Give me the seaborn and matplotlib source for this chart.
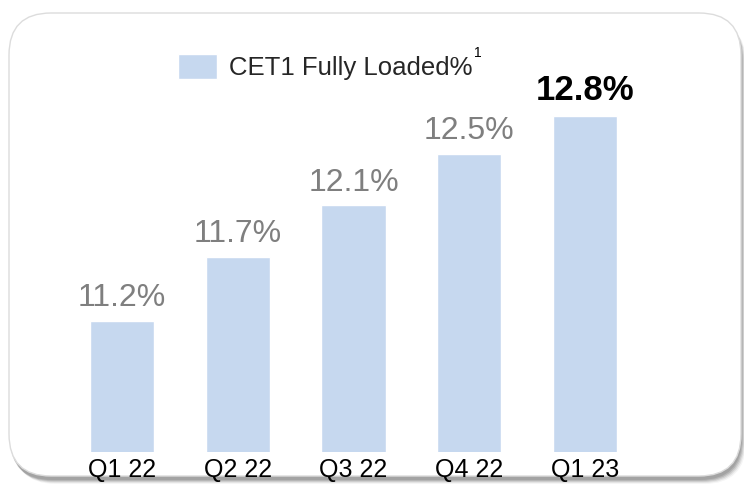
import matplotlib
matplotlib.use("Agg")
import matplotlib.pyplot as plt
import seaborn as sns
import pandas as pd
from matplotlib.patches import FancyBboxPatch
from matplotlib.transforms import IdentityTransform

quarters = ["Q1 22", "Q2 22", "Q3 22", "Q4 22", "Q1 23"]
values = [11.2, 11.7, 12.1, 12.5, 12.8]
value_labels = ["11.2%", "11.7%", "12.1%", "12.5%", "12.8%"]
legend_label = "CET1 Fully Loaded%"

sns.set_theme(style="white")
plt.rcParams['font.family'] = ['Liberation Sans', 'DejaVu Sans']

bar_color = "#c6d8ef"

fig = plt.figure(figsize=(7.44, 4.84), dpi=100)

# rounded frame with shadow (pixel coordinates)
for dx, dy, a in [(5, -8, 0.08), (4, -7, 0.14), (3, -6, 0.22), (2, -5, 0.30), (1, -4, 0.35)]:
    sh = FancyBboxPatch((9 + dx, 8 + dy), 732, 463,
                        boxstyle="round,pad=0,rounding_size=42",
                        transform=IdentityTransform(), facecolor="#808080",
                        edgecolor="none", alpha=a, zorder=-3)
    fig.add_artist(sh)
box = FancyBboxPatch((9, 8), 732, 463, boxstyle="round,pad=0,rounding_size=42",
                     transform=IdentityTransform(), facecolor="white",
                     edgecolor="#dcdcdc", linewidth=1.0, zorder=-2)
fig.add_artist(box)

ax = fig.add_axes([64 / 744, 32 / 484, 579 / 744, 362 / 484])
ax.patch.set_visible(False)

df = pd.DataFrame({"quarter": quarters, "value": values})
sns.barplot(data=df, x="quarter", y="value", color=bar_color, saturation=1,
            width=0.553, ax=ax, label=legend_label)

ymin = 10.175
ax.set_ylim(ymin, 13.0)
ax.set_xlim(-0.5, 4.5)

for i, (v, lab) in enumerate(zip(values, value_labels)):
    if i == len(values) - 1:
        ax.text(i, v + 0.07, lab, ha="center", va="bottom", fontsize=25,
                fontweight="bold", color="black")
    else:
        ax.text(i, v + 0.06, lab, ha="center", va="bottom", fontsize=23,
                color="#7f7f7f")

for s in ax.spines.values():
    s.set_visible(False)
ax.set_yticks([])
ax.set_xlabel("")
ax.set_ylabel("")
ax.tick_params(axis="x", length=0, pad=4, labelsize=18, colors="black")

leg = ax.legend(loc="upper left", bbox_to_anchor=(178 / 744, 1 - 54 / 484),
                bbox_transform=fig.transFigure, frameon=False, fontsize=18.5,
                handlelength=1.52, handleheight=1.13, handletextpad=0.45,
                borderpad=0, borderaxespad=0)

fig.canvas.draw()
renderer = fig.canvas.get_renderer()
tb = leg.get_texts()[0].get_window_extent(renderer)
fig.text((tb.x1 + 2) / 744, (tb.y1 - 4) / 484, "1", fontsize=10, color="black",
         ha="left", va="bottom")

fig.savefig("out.png", dpi=100)
